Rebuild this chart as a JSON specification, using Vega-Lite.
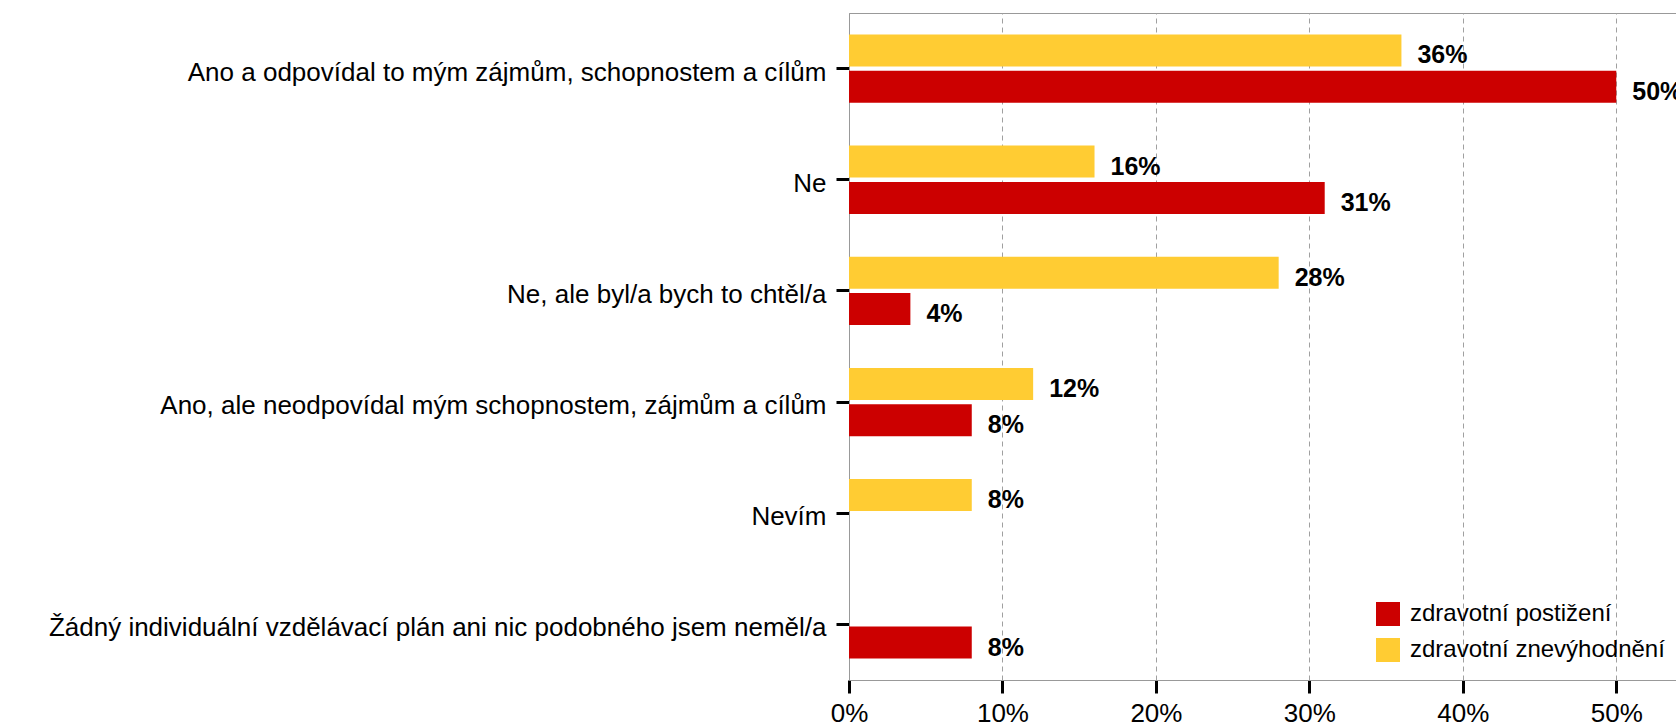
{
  "$schema": "https://vega.github.io/schema/vega-lite/v6.json",
  "autosize": {"type": "none"},
  "padding": {"left": 849, "top": 13, "right": 0, "bottom": 48},
  "width": 844,
  "height": 667,
  "background": "white",
  "config": {"view": {"stroke": "#999999", "strokeWidth": 1}, "font": "Liberation Sans"},
  "data": {"values": [
    {"odpoved": "Ano a odpovídal to mým zájmům, schopnostem a cílům", "skupina": "zdravotní znevýhodnění", "podil": 0.36},
    {"odpoved": "Ano a odpovídal to mým zájmům, schopnostem a cílům", "skupina": "zdravotní postižení", "podil": 0.50},
    {"odpoved": "Ne", "skupina": "zdravotní znevýhodnění", "podil": 0.16},
    {"odpoved": "Ne", "skupina": "zdravotní postižení", "podil": 0.31},
    {"odpoved": "Ne, ale byl/a bych to chtěl/a", "skupina": "zdravotní znevýhodnění", "podil": 0.28},
    {"odpoved": "Ne, ale byl/a bych to chtěl/a", "skupina": "zdravotní postižení", "podil": 0.04},
    {"odpoved": "Ano, ale neodpovídal mým schopnostem, zájmům a cílům", "skupina": "zdravotní znevýhodnění", "podil": 0.12},
    {"odpoved": "Ano, ale neodpovídal mým schopnostem, zájmům a cílům", "skupina": "zdravotní postižení", "podil": 0.08},
    {"odpoved": "Nevím", "skupina": "zdravotní znevýhodnění", "podil": 0.08},
    {"odpoved": "Žádný individuální vzdělávací plán ani nic podobného jsem neměl/a", "skupina": "zdravotní postižení", "podil": 0.08}
  ]},
  "encoding": {
    "y": {
      "field": "odpoved", "type": "nominal",
      "sort": ["Ano a odpovídal to mým zájmům, schopnostem a cílům", "Ne", "Ne, ale byl/a bych to chtěl/a", "Ano, ale neodpovídal mým schopnostem, zájmům a cílům", "Nevím", "Žádný individuální vzdělávací plán ani nic podobného jsem neměl/a"],
      "scale": {"paddingInner": 0.385, "paddingOuter": 0.1925},
      "axis": {"title": null, "labelFontSize": 26, "labelColor": "black", "tickColor": "black", "tickWidth": 3, "tickSize": 13, "labelPadding": 10, "labelOffset": 4, "domainColor": "#999999", "labelLimit": 1000, "grid": false}
    },
    "yOffset": {
      "field": "skupina", "type": "nominal",
      "scale": {"domain": ["zdravotní znevýhodnění", "zdravotní postižení"], "paddingInner": 0.12}
    },
    "x": {
      "field": "podil", "type": "quantitative",
      "scale": {"domain": [0, 0.55], "nice": false},
      "axis": {"title": null, "format": ".0%", "values": [0, 0.1, 0.2, 0.3, 0.4, 0.5], "grid": true, "gridDash": [5, 4], "gridColor": "#a0a0a0", "gridOpacity": 1, "tickColor": "black", "tickWidth": 3, "tickSize": 13, "labelFontSize": 26, "labelColor": "black", "labelPadding": 7, "domainColor": "#999999", "labelFlush": false}
    }
  },
  "layer": [
    {
      "mark": {"type": "bar"},
      "encoding": {
        "color": {
          "field": "skupina", "type": "nominal",
          "scale": {"domain": ["zdravotní postižení", "zdravotní znevýhodnění"], "range": ["#CC0000", "#FFCC33"]},
          "legend": {"title": null, "orient": "none", "legendX": 527, "legendY": 589, "symbolType": "square", "symbolSize": 576, "symbolStrokeWidth": 0, "symbolOpacity": 1, "labelFontSize": 24, "labelColor": "black", "rowPadding": 12, "labelOffset": 10, "labelLimit": 500}
        }
      }
    },
    {
      "mark": {"type": "text", "align": "left", "baseline": "middle", "dx": 16, "dy": 5, "fontWeight": "bold", "fontSize": 25, "color": "black"},
      "encoding": {"text": {"field": "podil", "type": "quantitative", "format": ".0%"}}
    }
  ]
}
